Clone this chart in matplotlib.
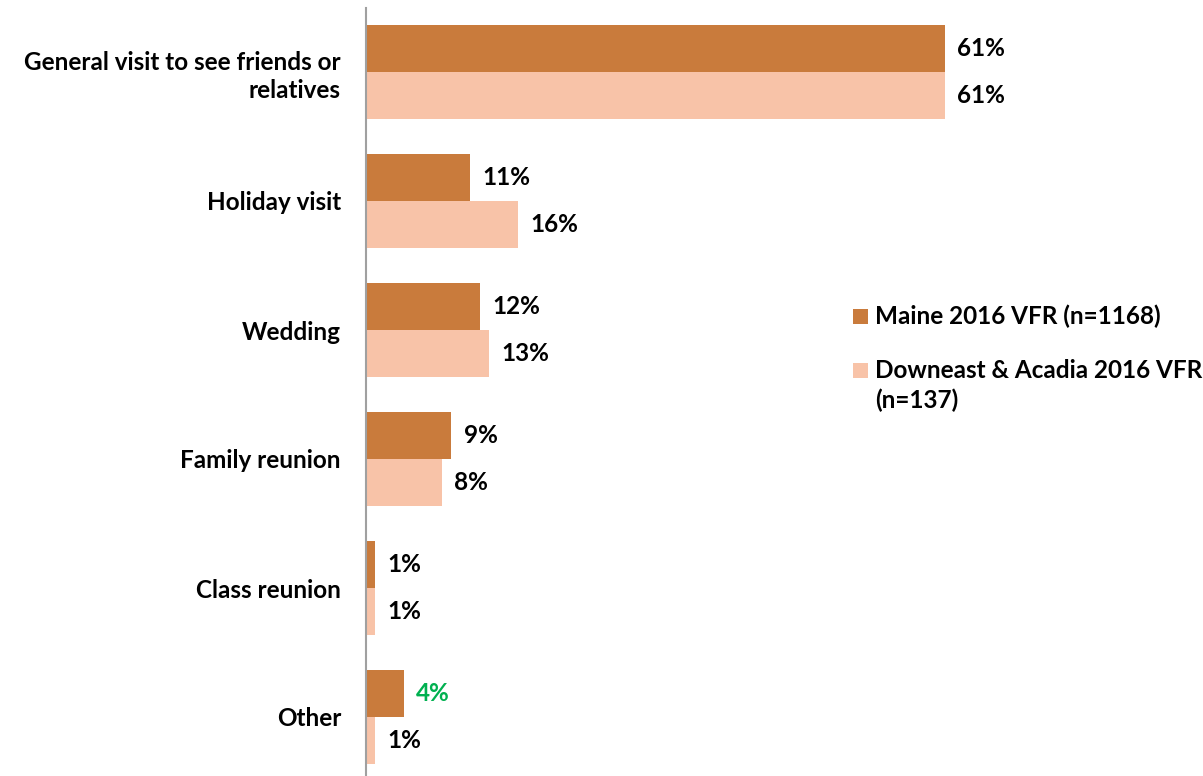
import matplotlib
matplotlib.use("Agg")
import matplotlib.pyplot as plt
from matplotlib.patches import Rectangle

categories = [
    "General visit to see friends or\nrelatives",
    "Holiday visit",
    "Wedding",
    "Family reunion",
    "Class reunion",
    "Other",
]
maine = [61, 11, 12, 9, 1, 4]
downeast = [61, 16, 13, 8, 1, 1]
series_names = ["Maine 2016 VFR (n=1168)", "Downeast & Acadia 2016 VFR\n(n=137)"]
maine_label_colors = ["black", "black", "black", "black", "black", "#00B050"]

c_maine = "#C97B3C"
c_down = "#F8C3A8"

plt.rcParams["font.family"] = ["Lato", "DejaVu Sans"]
plt.rcParams["font.weight"] = "bold"

W, H = 1203, 776
fig = plt.figure(figsize=(W / 100, H / 100), dpi=100)
pitch = 129
ax_left, ax_top = 366, 7.5
ax_bottom = ax_top + pitch * len(categories)
xmax = 70
px_per_unit = (945 - 366) / 61
ax_right = ax_left + xmax * px_per_unit
ax = fig.add_axes([ax_left / W, 1 - ax_bottom / H, (ax_right - ax_left) / W, (ax_bottom - ax_top) / H])
ax.patch.set_visible(False)

bh = 0.365
y = list(range(len(categories)))
ax.barh([i - bh / 2 for i in y], maine, height=bh, color=c_maine, linewidth=0)
ax.barh([i + bh / 2 for i in y], downeast, height=bh, color=c_down, linewidth=0)

fs = 17.5
for i in y:
    ax.text(maine[i] + 1.3, i - bh / 2, f"{maine[i]}%", va="center", ha="left",
            fontsize=fs, fontweight="bold", color=maine_label_colors[i])
    ax.text(downeast[i] + 1.3, i + bh / 2, f"{downeast[i]}%", va="center", ha="left",
            fontsize=fs, fontweight="bold", color="black")

ax.set_xlim(0, xmax)
ax.set_ylim(len(categories) - 0.5, -0.5)
ax.set_yticks(y)
ax.set_yticklabels(categories, fontsize=fs, fontweight="bold", ha="right", linespacing=1.25)
ax.tick_params(axis="y", length=0, pad=18)
ax.set_xticks([])
for s in ["top", "right", "bottom"]:
    ax.spines[s].set_visible(False)
ax.spines["left"].set_color("#A0A0A0")
ax.spines["left"].set_linewidth(1.5)

# legend drawn in figure pixel coordinates
def fig_xy(px, py):
    return px / W, 1 - py / H

sq = 15
for (py, color, name) in [(316, c_maine, series_names[0]), (370, c_down, series_names[1])]:
    x0, y0 = fig_xy(853, py + sq / 2)
    fig.patches.append(Rectangle((x0, y0), sq / W, sq / H, transform=fig.transFigure,
                                 color=color, linewidth=0))
    for k, line in enumerate(name.split("\n")):
        tx, ty = fig_xy(875, py + 30 * k)
        fig.text(tx, ty, line, fontsize=fs, fontweight="bold", va="center", ha="left")

fig.savefig("out.png", dpi=100)
